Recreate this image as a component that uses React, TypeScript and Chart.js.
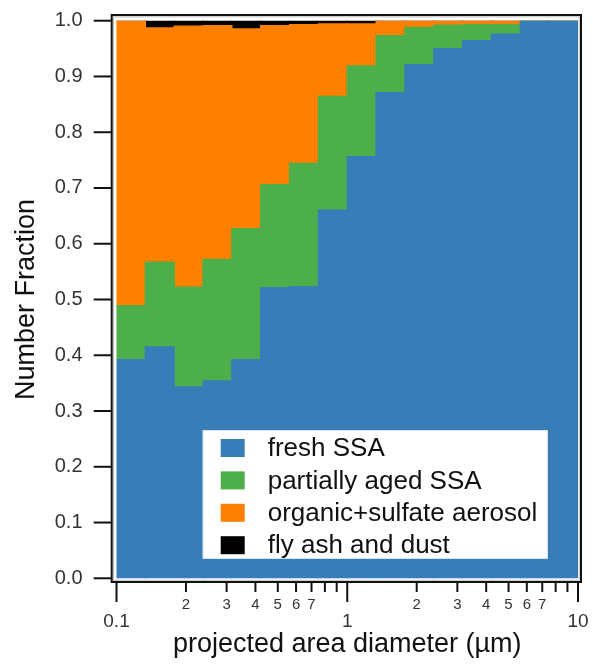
import React, { useEffect, useRef } from "react";
import { Chart, registerables } from "chart.js";

Chart.register(...registerables);

// ---- data ----
const BIN_CENTERS = [0.1155, 0.154, 0.2054, 0.2738, 0.3652, 0.487, 0.6494, 0.866, 1.155, 1.54, 2.054, 2.738, 3.652, 4.87, 6.494, 8.66];
const FRESH_SSA = [0.392, 0.415, 0.343, 0.354, 0.392, 0.521, 0.523, 0.66, 0.756, 0.871, 0.921, 0.95, 0.964, 0.976, 1.0, 1.0];
const PARTIALLY_AGED_SSA = [0.097, 0.152, 0.179, 0.218, 0.235, 0.185, 0.221, 0.204, 0.163, 0.102, 0.067, 0.042, 0.029, 0.017, 0, 0];
const ORGANIC_SULFATE = [0.511, 0.42, 0.468, 0.419, 0.358, 0.285, 0.249, 0.13, 0.075, 0.027, 0.012, 0.008, 0.007, 0.007, 0, 0];
const FLY_ASH_DUST = [0, 0.013, 0.01, 0.009, 0.015, 0.009, 0.007, 0.006, 0.006, 0, 0, 0, 0, 0, 0, 0];

const SERIES_LABELS = ["fresh SSA", "partially aged SSA", "organic+sulfate aerosol", "fly ash and dust"];
const SERIES_COLORS = ["#377eb8", "#4daf4a", "#ff7f00", "#000000"];

const X_TICKS = [0.1, 0.2, 0.3, 0.4, 0.5, 0.6, 0.7, 0.8, 0.9, 1, 2, 3, 4, 5, 6, 7, 8, 9, 10];
const X_TICK_LABELS = ["0.1", "2", "3", "4", "5", "6", "7", "", "", "1", "2", "3", "4", "5", "6", "7", "", "", "10"];
const X_MAJOR = [0.1, 1, 10];
const Y_TICKS = [0, 0.1, 0.2, 0.3, 0.4, 0.5, 0.6, 0.7, 0.8, 0.9, 1.0];

const FONT = "'Liberation Sans', Arial, Helvetica, sans-serif";

const decorPlugin = {
  id: "decor",
  afterDraw(chart: any) {
    const { ctx, chartArea: a, scales } = chart;
    const xs = scales.xTicks;
    const ys = scales.y;
    ctx.save();
    // frame
    const fl = a.left - 4.8;
    const ft = a.top - 5.7;
    const fr = a.right + 3;
    const fb = a.bottom + 3.7;
    ctx.strokeStyle = "#111";
    ctx.lineWidth = 2;
    ctx.strokeRect(fl, ft, fr - fl, fb - ft);
    ctx.strokeStyle = "#bbb";
    ctx.lineWidth = 1;
    ctx.strokeRect(fl + 1.8, ft + 1.8, fr - fl - 3.6, fb - ft - 3.6);

    // y tick marks
    ctx.strokeStyle = "#111";
    ctx.lineWidth = 2;
    Y_TICKS.forEach((v) => {
      const py = ys.getPixelForValue(v);
      ctx.beginPath();
      ctx.moveTo(fl - 18, py);
      ctx.lineTo(fl, py);
      ctx.stroke();
    });
    // x tick marks
    X_TICKS.forEach((v) => {
      const px = xs.getPixelForValue(v);
      const len = X_MAJOR.includes(v) ? 20 : 10;
      ctx.beginPath();
      ctx.moveTo(px, fb);
      ctx.lineTo(px, fb + len);
      ctx.stroke();
    });

    // legend
    const bx = a.left + 86.2;
    const by = a.top + 409.3;
    const bw = 345.3;
    const bh = 129;
    ctx.fillStyle = "#ffffff";
    ctx.fillRect(bx, by, bw, bh);
    ctx.strokeStyle = "#d6e2ef";
    ctx.lineWidth = 1;
    ctx.strokeRect(bx + 0.5, by + 0.5, bw - 1, bh - 1);
    ctx.font = `26px ${FONT}`;
    ctx.textBaseline = "middle";
    ctx.textAlign = "left";
    chart.data.datasets.forEach((ds: any, i: number) => {
      const cy = by + 18 + i * 32.4;
      ctx.fillStyle = ds.backgroundColor;
      ctx.fillRect(bx + 18, cy - 9, 24, 18);
      ctx.fillStyle = "#111";
      ctx.fillText(ds.label, bx + 65, cy + 1);
    });
    ctx.restore();
  },
};

export default function App() {
  const canvasRef = useRef<HTMLCanvasElement | null>(null);

  useEffect(() => {
    if (!canvasRef.current) return;
    Chart.defaults.font.family = FONT;
    const datasets = [FRESH_SSA, PARTIALLY_AGED_SSA, ORGANIC_SULFATE, FLY_ASH_DUST].map((vals, i) => ({
      label: SERIES_LABELS[i],
      data: vals,
      backgroundColor: SERIES_COLORS[i],
      borderWidth: 0,
      inflateAmount: 0.7,
      barPercentage: 1.0,
      categoryPercentage: 1.0,
      xAxisID: "x",
    }));
    const chart = new Chart(canvasRef.current, {
      type: "bar",
      data: { labels: BIN_CENTERS as any, datasets },
      options: {
        responsive: false,
        animation: false,
        layout: { padding: { left: 0, top: 20.7, right: 15, bottom: 0 } },
        plugins: { legend: { display: false }, tooltip: { enabled: false } },
        scales: {
          x: {
            type: "logarithmic",
            min: 0.1,
            max: 10,
            offset: false,
            stacked: true,
            display: false,
            afterBuildTicks: (axis: any) => {
              axis.ticks = [];
            },
          } as any,
          xTicks: {
            type: "logarithmic",
            axis: "x",
            position: "bottom",
            min: 0.1,
            max: 10,
            offset: false,
            afterBuildTicks: (axis: any) => {
              axis.ticks = X_TICKS.map((v) => ({ value: v, major: false }));
            },
            afterFit: (axis: any) => {
              axis.height = 85.7;
              axis.paddingLeft = 0;
              axis.paddingRight = 0;
            },
            grid: { display: false, drawTicks: false },
            border: { display: false },
            ticks: {
              autoSkip: false,
              maxRotation: 0,
              minRotation: 0,
              padding: 18,
              color: "#333",
              callback: (_v: any, i: number) => {
                const lab = X_TICK_LABELS[i];
                return X_MAJOR.includes(X_TICKS[i]) ? ["", lab] : lab;
              },
              font: (c: any) => {
                const v = c.tick ? c.tick.value : 0;
                return X_MAJOR.includes(v) ? { size: 19, lineHeight: 0.88 } : { size: 15, lineHeight: 1.1 };
              },
            },
            title: {
              display: true,
              text: "projected area diameter (µm)",
              color: "#111",
              font: { size: 27 },
              padding: { top: 0, bottom: 3 },
            },
          } as any,
          y: {
            min: 0,
            max: 1,
            stacked: true,
            afterBuildTicks: (axis: any) => {
              axis.ticks = Y_TICKS.map((v) => ({ value: v }));
            },
            afterFit: (axis: any) => {
              axis.width = 116.5;
              axis.paddingTop = 0;
              axis.paddingBottom = 0;
            },
            grid: { display: false, drawTicks: false },
            border: { display: false },
            ticks: {
              padding: 34,
              color: "#333",
              font: { size: 20 },
              callback: (v: any) => Number(v).toFixed(1),
            },
            title: {
              display: true,
              text: "Number Fraction",
              color: "#111",
              font: { size: 27 },
              padding: { top: 10, bottom: 0 },
            },
          },
        },
      },
      plugins: [decorPlugin],
    });
    return () => chart.destroy();
  }, []);

  return (
    <div style={{ position: "fixed", left: 0, top: 0, width: 593, height: 664, background: "#fff" }}>
      <canvas ref={canvasRef} width={593} height={664} />
    </div>
  );
}
